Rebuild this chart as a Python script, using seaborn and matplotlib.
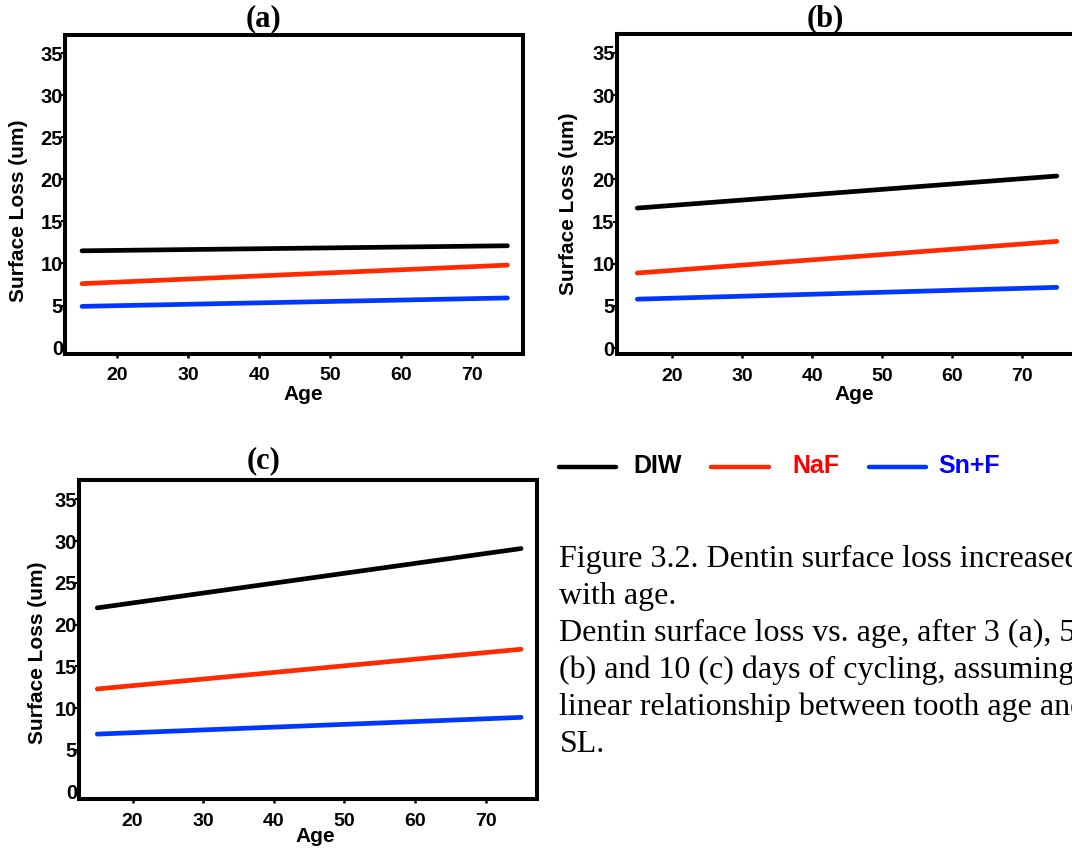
import matplotlib
matplotlib.use("Agg")
import matplotlib.pyplot as plt
from matplotlib.lines import Line2D
import seaborn as sns
import pandas as pd

# ---------------- data ----------------
ages = [15, 75]
treatments = ["DIW", "NaF", "Sn+F"]

a_diw = [11.5, 12.1]
a_naf = [7.6, 9.8]
a_snf = [4.9, 5.9]

b_diw = [16.6, 20.4]
b_naf = [8.9, 12.65]
b_snf = [5.8, 7.2]

c_diw = [22.0, 29.1]
c_naf = [12.3, 17.05]
c_snf = [6.9, 8.9]

panel_titles = ["(a)", "(b)", "(c)"]
x_ticks = [20, 30, 40, 50, 60, 70]
y_ticks = [0, 5, 10, 15, 20, 25, 30, 35]

caption_lines = [
    "Figure 3.2. Dentin surface loss increased",
    "with age.",
    "Dentin surface loss vs. age, after 3 (a), 5",
    "(b) and 10 (c) days of cycling, assuming a",
    "linear relationship between tooth age and",
    "SL.",
]

line_colors = {"DIW": "#000000", "NaF": "#ff2a00", "Sn+F": "#0037ff"}
text_colors = {"DIW": "#000000", "NaF": "#ff0000", "Sn+F": "#0000ff"}

def make_df(diw, naf, snf):
    rows = []
    for name, vals in zip(treatments, [diw, naf, snf]):
        for x, y in zip(ages, vals):
            rows.append({"Age": x, "SL": y, "Treatment": name})
    return pd.DataFrame(rows)

panels = [make_df(a_diw, a_naf, a_snf),
          make_df(b_diw, b_naf, b_snf),
          make_df(c_diw, c_naf, c_snf)]

# ---------------- figure ----------------
sns.set_theme(style="white")
SANS = ["Liberation Sans", "DejaVu Sans"]
SERIF = ["Liberation Serif", "DejaVu Serif"]
plt.rcParams["font.family"] = SANS
plt.rcParams["text.color"] = "black"
plt.rcParams["axes.labelcolor"] = "black"
plt.rcParams["xtick.color"] = "black"
plt.rcParams["ytick.color"] = "black"

W, H = 1072, 849
fig = plt.figure(figsize=(W / 100, H / 100), dpi=100)

def fx(px):
    return px / W

def fy(py):
    return 1 - py / H

# pixel boxes: left, right, top, bottom
boxes = [(65, 523, 34.5, 353.5),
         (616.7, 1075, 34.3, 354),
         (79.2, 537.3, 480, 799.3)]
xlims = [(12.6, 77.2), (12.05, 77.6), (12.44, 77.3)]
ylims = [(-0.7, 37.2), (-0.7, 37.2), (-0.9, 37.3)]

title_pos = [(263.5, 19), (825, 19), (263.5, 461)]
ylab_pos = [(19, 211), (569, 204), (38, 653)]
xlab_pos = [(303, 395), (854, 395), (315, 837)]

for i, df in enumerate(panels):
    l, r, t, b = boxes[i]
    ax = fig.add_axes([fx(l), fy(b), (r - l) / W, (b - t) / H])
    sns.lineplot(data=df, x="Age", y="SL", hue="Treatment",
                 palette=line_colors, hue_order=treatments,
                 linewidth=3.4, legend=False, ax=ax)
    ax.set_xlim(*xlims[i])
    ax.set_ylim(*ylims[i])
    ax.set_xticks(x_ticks)
    ax.set_yticks(y_ticks)
    ax.set_xlabel("")
    ax.set_ylabel("")
    for s in ax.spines.values():
        s.set_visible(True)
        s.set_color("black")
        s.set_linewidth(2.9)
    ax.tick_params(axis="x", direction="out", length=3, width=1.8,
                   pad=7, labelsize=14, colors="black")
    ax.tick_params(axis="y", direction="out", length=3, width=1.5,
                   pad=-1.5, labelsize=14.5, colors="black")
    ax.tick_params(bottom=True, left=True)
    for lab in ax.get_xticklabels() + ax.get_yticklabels():
        lab.set_fontweight("bold")
        lab.set_family(SANS)
        lab.set_color("black")
    ax.grid(False)

    tx, ty = title_pos[i]
    fig.text(fx(tx), fy(ty), panel_titles[i], ha="center", va="center",
             fontsize=22, fontweight="bold", family=SERIF, color="black")
    yx, yy = ylab_pos[i]
    fig.text(fx(yx), fy(yy), "Surface Loss (um)", rotation=90,
             ha="center", va="center", fontsize=15, fontweight="bold",
             family=SANS, color="black")
    xx, xy = xlab_pos[i]
    fig.text(fx(xx), fy(xy), "Age", ha="center", va="center",
             fontsize=15, fontweight="bold", family=SANS, color="black")

# ---------------- legend ----------------
leg_lines = [(558.7, 616.3), (711.3, 769), (869, 925.8)]
leg_text_x = [633.3, 792.8, 938.7]
for name, (x0, x1), txx in zip(treatments, leg_lines, leg_text_x):
    fig.add_artist(Line2D([fx(x0), fx(x1)], [fy(466.5), fy(466.5)],
                          transform=fig.transFigure,
                          color=line_colors[name], linewidth=3.2))
    fig.text(fx(txx), fy(466), name, ha="left", va="center",
             fontsize=18, fontweight="bold", color=text_colors[name],
             family=SANS)

# ---------------- caption ----------------
base_y = 567
for k, line in enumerate(caption_lines):
    fig.text(fx(559.5), fy(base_y + 37 * k), line, ha="left",
             va="baseline", fontsize=23, family=SERIF, color="black")

fig.savefig("out.png", dpi=100, facecolor="white")
